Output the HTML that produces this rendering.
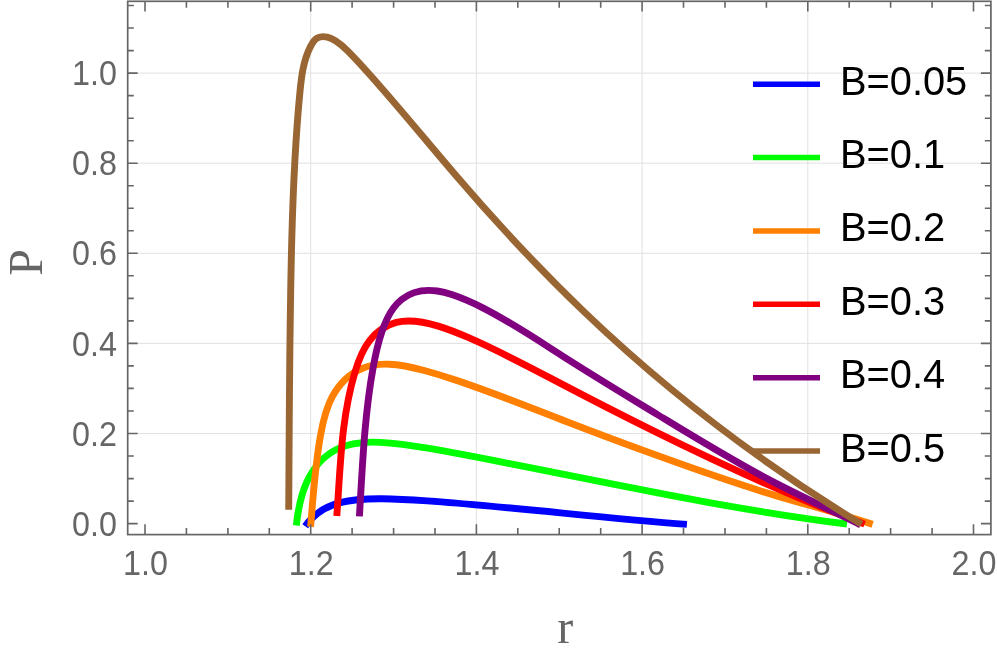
<!DOCTYPE html>
<html><head><meta charset="utf-8"><title>P vs r</title>
<style>
html,body{margin:0;padding:0;background:#fff;}
body{width:997px;height:654px;overflow:hidden;}
svg{display:block;will-change:transform;}
text{font-family:"Liberation Sans",sans-serif;}
.tk{font-size:32.3px;fill:#666666;}
.lg{font-size:39.8px;fill:#000;}
.ax{font-family:"Liberation Serif",serif;font-size:48px;fill:#666666;}
</style></head><body>
<svg width="997" height="654" viewBox="0 0 997 654">
<rect width="997" height="654" fill="#fff"/>
<path d="M310.7,1.3 V534.6 M476.4,1.3 V534.6 M642.1,1.3 V534.6 M807.8,1.3 V534.6 M127.7,433.5 H990.9 M127.7,343.4 H990.9 M127.7,253.3 H990.9 M127.7,163.2 H990.9 M127.7,73.1 H990.9" stroke="#e1e1e1" stroke-width="1" fill="none"/>
<path d="M305.20,526.30 C314.07,513.21 326.34,506.37 340.11,502.69 C353.52,499.11 368.00,498.56 382.26,498.71 C397.44,498.87 412.38,499.83 427.32,500.91 C513.81,507.17 600.40,517.76 686.90,524.39" stroke="#0000ff" stroke-width="6.9" fill="none" stroke-linejoin="round"/>
<path d="M296.30,525.50 C297.85,511.53 300.57,495.63 306.91,481.79 C313.40,467.62 324.02,455.55 337.35,449.02 C350.09,442.78 365.31,441.60 380.13,442.33 C385.22,442.59 390.26,443.06 395.29,443.62 C419.26,446.26 442.79,450.61 466.31,455.11 C592.83,479.33 719.02,508.04 847.00,523.99" stroke="#00ff00" stroke-width="6.9" fill="none" stroke-linejoin="round"/>
<path d="M310.60,526.90 C313.28,494.97 315.09,464.05 321.03,432.66 C323.36,420.35 326.30,407.97 332.16,396.98 C338.95,384.25 349.65,373.38 362.73,368.18 C370.90,364.93 380.01,363.90 389.05,364.21 C400.97,364.63 412.76,367.39 424.28,370.54 C434.40,373.30 444.30,376.36 454.16,379.60 C491.86,392.00 528.98,407.07 566.20,421.48 C598.10,433.84 630.08,445.71 662.20,457.34 C699.23,470.74 736.45,483.81 774.18,495.13 C806.97,504.96 840.12,513.47 872.60,524.37" stroke="#ff8000" stroke-width="6.9" fill="none" stroke-linejoin="round"/>
<path d="M336.80,515.90 C340.49,467.27 340.92,418.99 355.02,371.89 C358.34,360.79 362.42,349.75 369.42,340.76 C376.22,332.02 385.78,325.21 396.23,322.43 C409.59,318.87 424.41,321.88 438.23,326.16 C448.57,329.36 458.36,333.26 468.06,337.45 C498.62,350.63 528.35,366.53 558.11,382.13 C589.99,398.85 621.91,415.21 654.08,431.16 C722.80,465.21 792.75,497.28 864.60,524.11" stroke="#ff0000" stroke-width="6.9" fill="none" stroke-linejoin="round"/>
<path d="M359.40,516.40 C362.40,467.10 364.27,416.79 373.03,368.09 C375.20,356.01 377.79,344.02 381.75,332.21 C384.61,323.69 388.18,315.27 393.53,308.05 C395.93,304.82 398.68,301.83 401.77,299.39 C411.57,291.62 424.81,289.27 437.38,291.03 C442.52,291.75 447.54,293.15 452.45,294.78 C462.81,298.22 472.69,302.70 482.35,307.59 C509.79,321.46 535.48,338.68 561.46,355.30 C593.19,375.59 625.35,395.01 657.48,414.60 C694.36,437.08 731.19,459.77 769.39,479.88 C799.38,495.67 830.15,509.99 860.60,524.83" stroke="#800080" stroke-width="6.9" fill="none" stroke-linejoin="round"/>
<path d="M288.70,509.70 C289.35,420.04 289.36,329.98 291.75,240.28 C293.07,190.82 295.12,141.47 299.95,91.93 C301.48,76.25 303.29,60.55 310.56,46.34 C312.28,42.97 314.32,39.68 317.31,38.01 C320.17,36.42 323.90,36.31 327.34,37.04 C335.29,38.70 341.67,44.80 347.65,50.85 C354.70,57.97 361.19,65.03 367.61,72.18 C397.90,105.87 426.76,141.50 456.56,176.22 C497.23,223.61 539.64,269.31 584.68,312.37 C668.79,392.79 762.29,463.68 861.50,524.27" stroke="#996633" stroke-width="6.9" fill="none" stroke-linejoin="round"/>
<path d="M145.0,534.6 v-10.3 M145.0,1.3 v10.3 M186.4,534.6 v-6.5 M186.4,1.3 v6.5 M227.9,534.6 v-6.5 M227.9,1.3 v6.5 M269.3,534.6 v-6.5 M269.3,1.3 v6.5 M310.7,534.6 v-10.3 M310.7,1.3 v10.3 M352.1,534.6 v-6.5 M352.1,1.3 v6.5 M393.6,534.6 v-6.5 M393.6,1.3 v6.5 M435.0,534.6 v-6.5 M435.0,1.3 v6.5 M476.4,534.6 v-10.3 M476.4,1.3 v10.3 M517.8,534.6 v-6.5 M517.8,1.3 v6.5 M559.2,534.6 v-6.5 M559.2,1.3 v6.5 M600.7,534.6 v-6.5 M600.7,1.3 v6.5 M642.1,534.6 v-10.3 M642.1,1.3 v10.3 M683.5,534.6 v-6.5 M683.5,1.3 v6.5 M725.0,534.6 v-6.5 M725.0,1.3 v6.5 M766.4,534.6 v-6.5 M766.4,1.3 v6.5 M807.8,534.6 v-10.3 M807.8,1.3 v10.3 M849.2,534.6 v-6.5 M849.2,1.3 v6.5 M890.6,534.6 v-6.5 M890.6,1.3 v6.5 M932.1,534.6 v-6.5 M932.1,1.3 v6.5 M973.5,534.6 v-10.3 M973.5,1.3 v10.3 M127.7,523.6 h10.0 M990.9,523.6 h-10.0 M127.7,501.1 h6.1 M990.9,501.1 h-6.1 M127.7,478.6 h6.1 M990.9,478.6 h-6.1 M127.7,456.0 h6.1 M990.9,456.0 h-6.1 M127.7,433.5 h10.0 M990.9,433.5 h-10.0 M127.7,411.0 h6.1 M990.9,411.0 h-6.1 M127.7,388.4 h6.1 M990.9,388.4 h-6.1 M127.7,365.9 h6.1 M990.9,365.9 h-6.1 M127.7,343.4 h10.0 M990.9,343.4 h-10.0 M127.7,320.9 h6.1 M990.9,320.9 h-6.1 M127.7,298.4 h6.1 M990.9,298.4 h-6.1 M127.7,275.8 h6.1 M990.9,275.8 h-6.1 M127.7,253.3 h10.0 M990.9,253.3 h-10.0 M127.7,230.8 h6.1 M990.9,230.8 h-6.1 M127.7,208.2 h6.1 M990.9,208.2 h-6.1 M127.7,185.7 h6.1 M990.9,185.7 h-6.1 M127.7,163.2 h10.0 M990.9,163.2 h-10.0 M127.7,140.7 h6.1 M990.9,140.7 h-6.1 M127.7,118.2 h6.1 M990.9,118.2 h-6.1 M127.7,95.6 h6.1 M990.9,95.6 h-6.1 M127.7,73.1 h10.0 M990.9,73.1 h-10.0 M127.7,50.6 h6.1 M990.9,50.6 h-6.1 M127.7,28.0 h6.1 M990.9,28.0 h-6.1 M127.7,5.5 h6.1 M990.9,5.5 h-6.1" stroke="#666666" stroke-width="1.6" fill="none"/>
<rect x="127.7" y="1.3" width="863.2" height="533.3" fill="none" stroke="#666666" stroke-width="1.7"/>
<text class="tk" transform="translate(145.5,575.2) scale(1,1.06)" text-anchor="middle">1.0</text>
<text class="tk" transform="translate(311.2,575.2) scale(1,1.06)" text-anchor="middle">1.2</text>
<text class="tk" transform="translate(476.9,575.2) scale(1,1.06)" text-anchor="middle">1.4</text>
<text class="tk" transform="translate(642.6,575.2) scale(1,1.06)" text-anchor="middle">1.6</text>
<text class="tk" transform="translate(808.3,575.2) scale(1,1.06)" text-anchor="middle">1.8</text>
<text class="tk" transform="translate(974.0,575.2) scale(1,1.06)" text-anchor="middle">2.0</text>
<text class="tk" transform="translate(117.0,535.7) scale(1,1.06)" text-anchor="end">0.0</text>
<text class="tk" transform="translate(117.0,445.6) scale(1,1.06)" text-anchor="end">0.2</text>
<text class="tk" transform="translate(117.0,355.5) scale(1,1.06)" text-anchor="end">0.4</text>
<text class="tk" transform="translate(117.0,265.4) scale(1,1.06)" text-anchor="end">0.6</text>
<text class="tk" transform="translate(117.0,175.3) scale(1,1.06)" text-anchor="end">0.8</text>
<text class="tk" transform="translate(117.0,85.2) scale(1,1.06)" text-anchor="end">1.0</text>
<text class="ax" x="565.3" y="643" text-anchor="middle">r</text>
<text class="ax" transform="translate(42,262.5) rotate(-90)" text-anchor="middle">P</text>
<path d="M753,84.2 H820" stroke="#0000ff" stroke-width="5.5" fill="none"/>
<text class="lg" transform="translate(840.0,94.7) scale(1,1.04)">B=0.05</text>
<path d="M753,157.5 H820" stroke="#00ff00" stroke-width="5.5" fill="none"/>
<text class="lg" transform="translate(840.0,168.0) scale(1,1.04)">B=0.1</text>
<path d="M753,230.9 H820" stroke="#ff8000" stroke-width="5.5" fill="none"/>
<text class="lg" transform="translate(840.0,241.4) scale(1,1.04)">B=0.2</text>
<path d="M753,304.3 H820" stroke="#ff0000" stroke-width="5.5" fill="none"/>
<text class="lg" transform="translate(840.0,314.8) scale(1,1.04)">B=0.3</text>
<path d="M753,377.7 H820" stroke="#800080" stroke-width="5.5" fill="none"/>
<text class="lg" transform="translate(840.0,388.2) scale(1,1.04)">B=0.4</text>
<path d="M753,451.1 H820" stroke="#996633" stroke-width="5.5" fill="none"/>
<text class="lg" transform="translate(840.0,461.6) scale(1,1.04)">B=0.5</text>
</svg></body></html>
